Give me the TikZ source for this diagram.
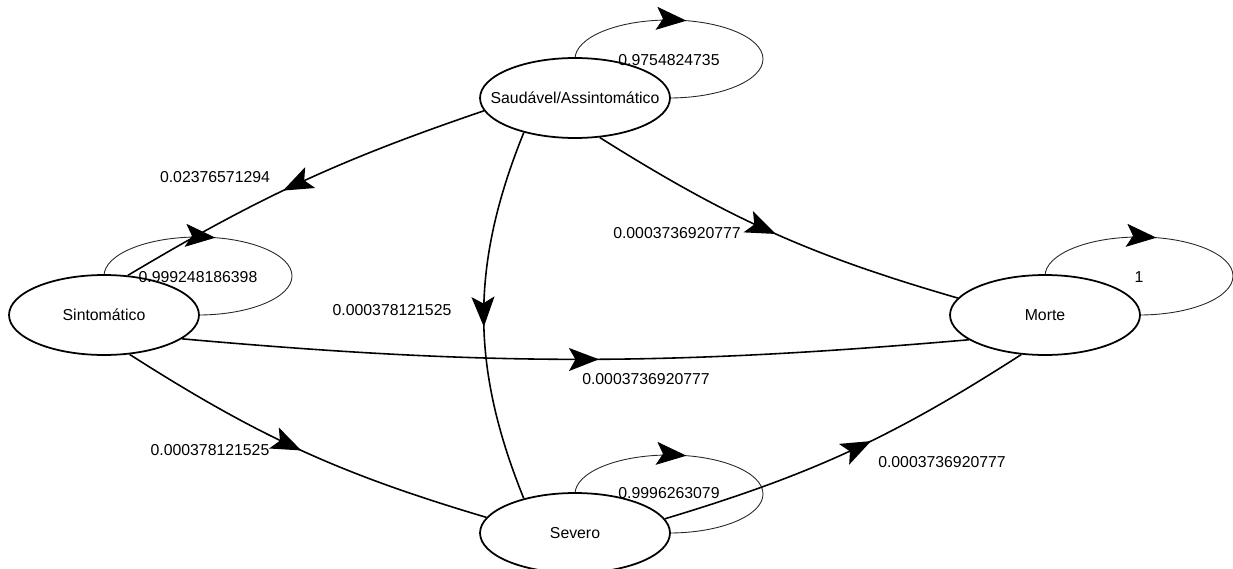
\documentclass[tikz,border=0pt]{standalone}
\usepackage{fontspec}
\setmainfont{Liberation Sans}
\usetikzlibrary{shapes.geometric, arrows.meta, decorations.markings, backgrounds}

\begin{document}
\begin{tikzpicture}[
      x=0.02cm, y=0.02cm,
      every node/.style={font=\fontsize{9}{11}\selectfont},
      state/.style={ellipse, draw=black, line width=1pt, fill=white,
                    minimum width=3.8cm, minimum height=1.6cm, inner sep=0pt},
      prob/.style={inner sep=1pt},
      link/.style={line width=0.9pt, draw=black},
      selfloop/.style={line width=0.5pt, draw=black!85},
      midarrow/.style={postaction={decorate}, decoration={markings,
          mark=at position #1 with
            {\arrow{Stealth[length=0.6cm, width=0.46cm, inset=0.13cm,
                            color=black]}}}},
      midarrow/.default=0.53,
    ]
    \useasboundingbox (0,0) rectangle (1233,-568);

    \node[state] (saud) at (575,-98)
      {\makebox[0pt]{Saudável/Assintomático}};
    \node[state] (sint) at (104,-315) {\makebox[0pt]{Sintomático}};
    \node[state] (morte) at (1045,-315) {\makebox[0pt]{Morte}};
    \node[state] (sev) at (575,-533) {\makebox[0pt]{Severo}};

    \begin{pgfonlayer}{background}
      \draw[selfloop, midarrow=0.29] (saud.center) ++(0,39)
        arc[start angle=180, end angle=-180, x radius=94, y radius=39];
      \draw[selfloop, midarrow=0.29] (sint.center) ++(0,39)
        arc[start angle=180, end angle=-180, x radius=94, y radius=39];
      \draw[selfloop, midarrow=0.29] (morte.center) ++(0,39)
        arc[start angle=180, end angle=-180, x radius=94, y radius=39];
      \draw[selfloop, midarrow=0.29] (sev.center) ++(0,39)
        arc[start angle=180, end angle=-180, x radius=94, y radius=39];
    \end{pgfonlayer}

    \draw[link, midarrow=0.55] (saud.188.7) to[bend right=6] (sint.59);
    \draw[link, midarrow] (saud.-146.8) to[bend right=22] (sev.146);
    \draw[link, midarrow=0.51] (saud.-58.8) to[bend right=8] (morte.169.6);
    \draw[link, midarrow] (sint.-17.5) to[bend right=5] (morte.-162.7);
    \draw[link, midarrow=0.5] (sint.-57) to[bend right=8] (sev.170.7);
    \draw[link, midarrow=0.56] (sev.9.3) to[bend right=8] (morte.-121);

    \node[prob] (psaud) at ([shift={(94,38)}]saud.center) {0.9754824735};
    \node[prob] (psint) at ([shift={(94,38)}]sint.center) {0.999248186398};
    \node[prob] (pmorte) at ([shift={(94,38)}]morte.center) {1};
    \node[prob] (psev) at ([shift={(94,40)}]sev.center) {0.9996263079};

    \node[prob] (psaudsint) at (215,-177) {0.02376571294};
    \node[prob] (psaudsev) at (392,-310) {0.000378121525};
    \node[prob] (psaudmorte) at (677,-233) {0.0003736920777};
    \node[prob] (psintmorte) at (646,-379) {0.0003736920777};
    \node[prob] (psintsev) at (210,-450) {0.000378121525};
    \node[prob] (psevmorte) at (942,-462) {0.0003736920777};

  \end{tikzpicture}
\end{document}
